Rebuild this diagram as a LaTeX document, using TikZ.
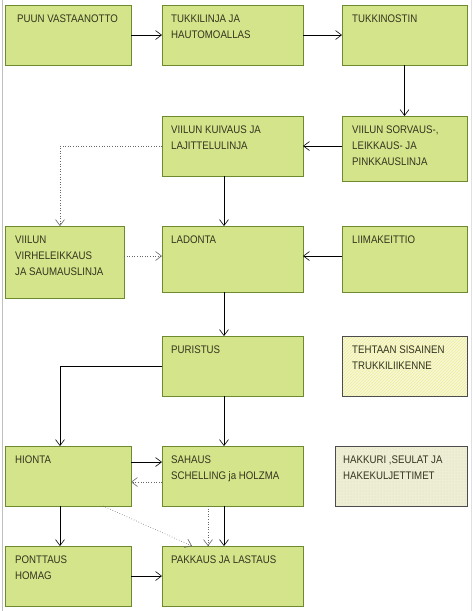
\documentclass[tikz,border=0pt]{standalone}
\usepackage{fontspec}
\setmainfont[FakeStretch=0.88]{Liberation Sans}
\usetikzlibrary{arrows.meta,patterns,shadows}
\definecolor{boxgreen}{HTML}{D3E48B}
\definecolor{boxedge}{HTML}{6E8A2E}
\definecolor{txt}{HTML}{34341E}
\definecolor{paleyel}{HTML}{F7F7D6}
\definecolor{stripe}{HTML}{EDED9A}
\definecolor{hakfill}{HTML}{EEEED6}
\definecolor{hakdot}{HTML}{DCDCB0}
\tikzset{
  base/.style={rectangle, anchor=north west, inner sep=0pt, outer sep=0pt,
    drop shadow={shadow xshift=1pt, shadow yshift=-1pt, fill=black!75, opacity=1}},
  gbox/.style={base, fill=boxgreen, draw=boxedge, line width=0.6pt},
  hbox/.style={base, preaction={fill=paleyel}, pattern=north east lines, pattern color=stripe,
    draw=black!70, line width=0.6pt},
  dbox/.style={base, preaction={fill=hakfill}, pattern=dots, pattern color=hakdot,
    draw=black!70, line width=0.6pt},
  lbl/.style={anchor=north west, inner sep=0pt, xshift=10pt, yshift=-10pt,
    align=left, text=txt, font=\fontsize{11}{16}\selectfont},
  arr/.style={draw=black, line width=0.6pt, -{Straight Barb[length=6pt,width=9pt,line width=0.6pt]}},
  dotarr/.style={draw=black!60, line width=0.6pt, dotted, -{Straight Barb[length=6pt,width=9pt,line width=0.6pt]}},
}
\begin{document}
\begin{tikzpicture}[x=1pt,y=-1pt]
\useasboundingbox[fill=white] (0,0) rectangle (473,611);
\draw[black!25, line width=0.8pt] (2.5,0) -- (2.5,611);
\draw[black!12, line width=0.8pt] (471,0) -- (471,611);

\node[gbox, minimum width=126, minimum height=60] (puun) at (5,5) {};
\node[gbox, minimum width=141, minimum height=60] (tukki) at (162,5) {};
\node[gbox, minimum width=125, minimum height=60] (nostin) at (342,5) {};
\node[gbox, minimum width=141, minimum height=60] (kuivaus) at (162,116) {};
\node[gbox, minimum width=125, minimum height=65] (sorvaus) at (342,116) {};
\node[gbox, minimum width=119, minimum height=72] (virhe) at (5,226) {};
\node[gbox, minimum width=141, minimum height=66] (ladonta) at (162,226) {};
\node[gbox, minimum width=125, minimum height=66] (liima) at (342,226) {};
\node[gbox, minimum width=141, minimum height=60] (puristus) at (162,336) {};
\node[hbox, minimum width=125, minimum height=60] (tehtaan) at (342,336) {};
\node[gbox, minimum width=126, minimum height=60] (hionta) at (5,446) {};
\node[gbox, minimum width=141, minimum height=60] (sahaus) at (162,446) {};
\node[dbox, minimum width=132, minimum height=60] (hakkuri) at (335,446) {};
\node[gbox, minimum width=126, minimum height=60] (pont) at (5,546) {};
\node[gbox, minimum width=141, minimum height=60] (pakkaus) at (162,546) {};

\node[lbl, xshift=2pt] (t1) at (puun.north west) {PUUN VASTAANOTTO};
\node[lbl, xshift=-1pt] (t2) at (tukki.north west) {TUKKILINJA JA\\HAUTOMOALLAS};
\node[lbl] (t3) at (nostin.north west) {TUKKINOSTIN};
\node[lbl, xshift=-1pt] (t4) at (kuivaus.north west) {VIILUN KUIVAUS JA\\LAJITTELULINJA};
\node[lbl] (t5) at (sorvaus.north west) {VIILUN SORVAUS-,\\LEIKKAUS- JA\\PINKKAUSLINJA};
\node[lbl] (t6) at (virhe.north west) {VIILUN\\VIRHELEIKKAUS\\JA SAUMAUSLINJA};
\node[lbl, xshift=-1pt] (t7) at (ladonta.north west) {LADONTA};
\node[lbl] (t8) at (liima.north west) {LIIMAKEITTIO};
\node[lbl, xshift=-1pt] (t9) at (puristus.north west) {PURISTUS};
\node[lbl] (t10) at (tehtaan.north west) {TEHTAAN SISAINEN\\TRUKKILIIKENNE};
\node[lbl] (t11) at (hionta.north west) {HIONTA};
\node[lbl, xshift=-1pt] (t12) at (sahaus.north west) {SAHAUS\\SCHELLING ja HOLZMA};
\node[lbl, xshift=-2pt] (t13) at (hakkuri.north west) {HAKKURI ,SEULAT JA\\HAKEKULJETTIMET};
\node[lbl] (t14) at (pont.north west) {PONTTAUS\\HOMAG};
\node[lbl, xshift=-1pt] (t15) at (pakkaus.north west) {PAKKAUS JA LASTAUS};

\coordinate (lx) at (60,0);
\coordinate (mx) at (224,0);
\coordinate (dx) at (208,0);
\coordinate (hx) at (103,0);
\coordinate (px) at (192,0);
\coordinate (ly) at (0,256);
\coordinate (hy1) at (0,462);
\coordinate (hy2) at (0,482);

\draw[arr] (puun.east) -- (tukki.west);
\draw[arr] (tukki.east) -- (nostin.west);
\draw[arr] (nostin.south) -- (sorvaus.north);
\draw[arr] (kuivaus.east -| sorvaus.west) -- (kuivaus.east);
\draw[dotarr] (kuivaus.west) -| (virhe.north -| lx);
\draw[arr] (kuivaus.south -| mx) -- (ladonta.north -| mx);
\draw[dotarr] (virhe.east |- ly) -- (ladonta.west |- ly);
\draw[arr] (liima.west |- ly) -- (ladonta.east |- ly);
\draw[arr] (ladonta.south -| mx) -- (puristus.north -| mx);
\draw[arr] (puristus.west) -| (hionta.north -| lx);
\draw[arr] (puristus.south -| mx) -- (sahaus.north -| mx);
\draw[arr] (hionta.east |- hy1) -- (sahaus.west |- hy1);
\draw[dotarr] (sahaus.west |- hy2) -- (hionta.east |- hy2);
\draw[arr] (hionta.south -| lx) -- (pont.north -| lx);
\draw[dotarr] (hionta.south -| hx) -- (pakkaus.north -| px);
\draw[dotarr] (sahaus.south -| dx) -- (pakkaus.north -| dx);
\draw[arr] (sahaus.south -| mx) -- (pakkaus.north -| mx);
\draw[arr] (pont.east) -- (pakkaus.west);
\end{tikzpicture}
\end{document}
